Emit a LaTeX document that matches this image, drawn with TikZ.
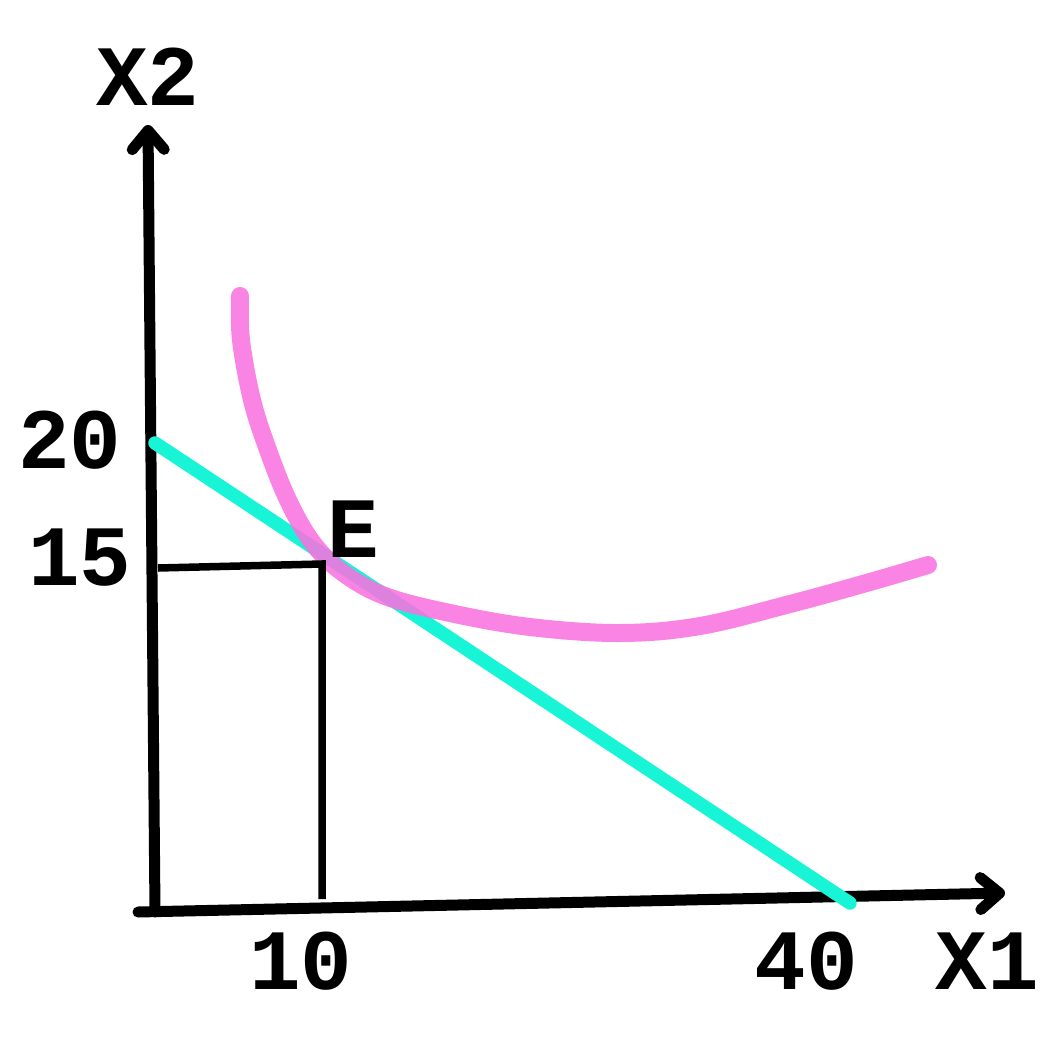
\documentclass[tikz,border=0pt]{standalone}
\usepackage{fontspec}
\setmonofont{Liberation Mono}
\usetikzlibrary{arrows.meta,positioning}
\definecolor{budget}{HTML}{18F4D6}
\definecolor{indiff}{HTML}{F873E0}

\begin{document}
\begin{tikzpicture}[x=1pt,y=-1pt,
    axis/.style={line width=11pt,line cap=round,-{Straight Barb[length=19pt,width=32pt,line cap=round,line join=round]}},
    guide/.style={line width=7.5pt},
    lbl/.style={font=\ttfamily\bfseries\fontsize{86}{86}\selectfont,inner sep=0pt}]
    \useasboundingbox (0,0) rectangle (1047,1041);
    \coordinate (O) at (155,912);
    \coordinate (ytip) at (148,125);
    \coordinate (xbeg) at (138,912);
    \coordinate (xtip) at (1005,893);
    \coordinate (E) at (322,564);
    % axes
    \draw[axis] (O) -- (ytip);
    \draw[axis] (xbeg) -- (xtip);
    % budget line and indifference curve
    \draw[budget,line width=13.5pt,line cap=round] (155,443) -- (850,903);
    \draw[indiff,line width=18pt,line cap=round,opacity=.88] plot[smooth,tension=.6] coordinates
      {(240,296) (241,340) (252,400) (268,450) (288,500) (312,542) (342,572) (385,596) (450,613) (530,627) (620,633) (700,626) (790,604) (870,582) (928,565)};
    % guide lines at E
    \draw[guide] (158,568) -- (E) -- (322,899);
    \node[lbl] (x2) at (148,77) {X2};
    \node[lbl] (v20) at (70,440) {20};
    \node[lbl] (v15) at (80,558) {15};
    \node[lbl] (lE) at (353,529) {E};
    \node[lbl] (v10) at (301,961) {10};
    \node[lbl] (v40) at (806,961) {40};
    \node[lbl] (x1) at (987,961) {X1};
\end{tikzpicture}
\end{document}
